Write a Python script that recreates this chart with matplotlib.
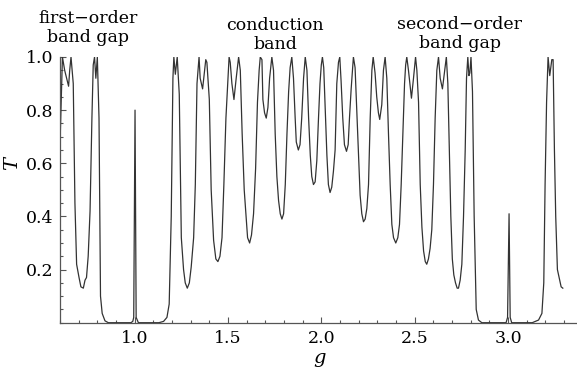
import matplotlib.pyplot as plt
from matplotlib.ticker import MultipleLocator, FixedLocator

# transmission T vs g
g = [0.602, 0.605, 0.613, 0.625, 0.646, 0.652, 0.659, 0.671, 0.680, 0.689,
     0.702, 0.712, 0.725, 0.734, 0.742, 0.751, 0.761, 0.771, 0.778, 0.785,
     0.792, 0.800, 0.809, 0.817, 0.826, 0.841, 0.859,
     0.98, 0.990, 0.995, 1.002, 1.008, 1.015, 1.02,
     1.13, 1.155, 1.173, 1.185, 1.196, 1.205, 1.210, 1.218, 1.228, 1.239,
     1.250, 1.262, 1.271, 1.282, 1.293, 1.303, 1.316, 1.325, 1.334, 1.345,
     1.351, 1.364, 1.381, 1.387, 1.400, 1.410, 1.423, 1.435, 1.446, 1.457,
     1.468, 1.478, 1.489, 1.506,
     1.512, 1.521, 1.532, 1.544, 1.557, 1.566, 1.576, 1.587, 1.598, 1.605,
     1.616, 1.626, 1.637, 1.648, 1.658, 1.667, 1.673, 1.682, 1.687, 1.696,
     1.705, 1.714, 1.723, 1.735, 1.744, 1.753, 1.762, 1.771, 1.780, 1.789,
     1.798, 1.807, 1.816, 1.825, 1.833, 1.842, 1.851, 1.860, 1.866, 1.877,
     1.886, 1.895, 1.905, 1.914, 1.923, 1.932, 1.941, 1.949, 1.958,
     1.967, 1.976, 1.985, 1.993, 2.000, 2.006, 2.013, 2.021, 2.030, 2.038,
     2.047, 2.056, 2.065, 2.074, 2.083, 2.092, 2.099, 2.106, 2.115, 2.124,
     2.135, 2.144, 2.151, 2.160, 2.172, 2.181, 2.190, 2.199, 2.208, 2.217,
     2.226, 2.235, 2.244, 2.253, 2.262, 2.271, 2.278, 2.288, 2.297, 2.306,
     2.313, 2.324, 2.333, 2.342, 2.351, 2.360, 2.369, 2.378, 2.387, 2.399,
     2.410, 2.419,
     2.428, 2.437, 2.446, 2.452, 2.458, 2.467, 2.476, 2.483, 2.494, 2.505,
     2.512, 2.521, 2.530, 2.539, 2.548, 2.557, 2.565, 2.574, 2.583, 2.592,
     2.601, 2.610, 2.619, 2.628, 2.637, 2.649, 2.658, 2.670, 2.678, 2.686,
     2.694, 2.702, 2.710, 2.719, 2.728, 2.735, 2.744, 2.753, 2.762, 2.771,
     2.778, 2.785, 2.791, 2.796, 2.802, 2.810, 2.819, 2.830, 2.842, 2.86,
     2.99, 2.998, 3.006, 3.012, 3.02,
     3.13, 3.164, 3.182, 3.192, 3.199, 3.207, 3.215, 3.224, 3.235, 3.242,
     3.249, 3.256, 3.265, 3.274, 3.285, 3.294]

T = [0.72, 0.80, 1.00, 0.95, 0.89, 0.95, 1.00, 0.90, 0.45, 0.22,
     0.17, 0.135, 0.13, 0.16, 0.17, 0.25, 0.42, 0.77, 0.97, 1.00,
     0.92, 1.00, 0.77, 0.10, 0.035, 0.007, 0.0,
     0.0, 0.005, 0.02, 0.80, 0.02, 0.008, 0.0,
     0.0, 0.005, 0.02, 0.07, 0.40, 0.92, 1.00, 0.935, 1.00, 0.86,
     0.32, 0.20, 0.15, 0.13, 0.15, 0.21, 0.32, 0.52, 0.90, 1.00,
     0.92, 0.88, 0.99, 0.98, 0.84, 0.50, 0.31, 0.24, 0.23, 0.25,
     0.32, 0.52, 0.77, 1.00,
     0.98, 0.90, 0.84, 0.92, 1.00, 0.95, 0.71, 0.50, 0.39, 0.32,
     0.30, 0.33, 0.41, 0.58, 0.83, 0.95, 1.00, 0.99, 0.84, 0.79,
     0.77, 0.81, 0.92, 1.00, 0.95, 0.71, 0.55, 0.46, 0.41, 0.39,
     0.41, 0.52, 0.71, 0.87, 0.96, 1.00, 0.92, 0.77, 0.68, 0.65,
     0.67, 0.77, 0.92, 1.00, 0.95, 0.77, 0.63, 0.55, 0.52,
     0.53, 0.61, 0.77, 0.90, 0.97, 1.00, 0.96, 0.80, 0.63, 0.52,
     0.49, 0.51, 0.57, 0.65, 0.90, 0.98, 1.00, 0.91, 0.77, 0.67,
     0.645, 0.67, 0.77, 0.88, 1.00, 0.96, 0.80, 0.65, 0.48, 0.41,
     0.38, 0.39, 0.43, 0.52, 0.77, 0.95, 1.00, 0.94, 0.85, 0.79,
     0.765, 0.82, 0.95, 1.00, 0.92, 0.71, 0.52, 0.37, 0.32, 0.30,
     0.32, 0.37,
     0.52, 0.71, 0.90, 0.97, 1.00, 0.95, 0.89, 0.845, 0.92, 1.00,
     0.95, 0.83, 0.52, 0.36, 0.27, 0.23, 0.22, 0.24, 0.28, 0.35,
     0.52, 0.77, 0.95, 1.00, 0.92, 0.88, 0.93, 1.00, 0.90, 0.65,
     0.40, 0.24, 0.18, 0.15, 0.13, 0.13, 0.16, 0.22, 0.40, 0.65,
     0.92, 1.00, 0.93, 0.94, 1.00, 0.87, 0.40, 0.05, 0.01, 0.0,
     0.0, 0.02, 0.41, 0.02, 0.0,
     0.0, 0.01, 0.035, 0.15, 0.52, 0.83, 1.00, 0.93, 0.99, 0.99,
     0.65, 0.40, 0.20, 0.17, 0.135, 0.13]

x_ticks = [1.0, 1.5, 2.0, 2.5, 3.0]
y_ticks = [0.2, 0.4, 0.6, 0.8, 1.0]

plt.rcParams['font.family'] = 'DejaVu Serif'
plt.rcParams['mathtext.fontset'] = 'dejavuserif'

fig = plt.figure(figsize=(5.77, 3.71), dpi=100)
ax = fig.add_axes([60 / 577, (371 - 322.7) / 371, 517 / 577, (322.7 - 57) / 371])
ax.plot(g, T, color='#333333', lw=0.9)

ax.set_xlim(0.6, 3.37)
ax.set_ylim(0, 1.0)
ax.spines['top'].set_visible(False)
ax.spines['right'].set_visible(False)
for s in ['left', 'bottom']:
    ax.spines[s].set_color('#555555')
    ax.spines[s].set_linewidth(0.9)

ax.xaxis.set_major_locator(FixedLocator(x_ticks))
ax.xaxis.set_minor_locator(MultipleLocator(0.1))
ax.yaxis.set_major_locator(FixedLocator(y_ticks))
ax.yaxis.set_minor_locator(MultipleLocator(0.05))
ax.tick_params(which='both', direction='in', colors='#555555', labelcolor='black',
               labelsize=12.5, width=0.8, pad=5)
ax.tick_params(which='major', length=4)
ax.tick_params(which='minor', length=2.5)
ax.set_xticklabels(['1.0', '1.5', '2.0', '2.5', '3.0'])
ax.set_yticklabels(['0.2', '0.4', '0.6', '0.8', '1.0'])

fig.text(12 / 577, 1 - 163 / 371, 'T', style='italic', fontsize=14,
         rotation=90, ha='center', va='center')
fig.text(320 / 577, 1 - 358 / 371, 'g', style='italic', fontsize=14,
         ha='center', va='center')

fig.text(88 / 577, 1 - 28 / 371, 'first\u2212order\nband gap', fontsize=12.5,
         ha='center', va='center', linespacing=1.1)
fig.text(275 / 577, 1 - 35 / 371, 'conduction\nband', fontsize=12.5,
         ha='center', va='center', linespacing=1.1)
fig.text(460 / 577, 1 - 34 / 371, 'second\u2212order\nband gap', fontsize=12.5,
         ha='center', va='center', linespacing=1.1)

fig.savefig('out.png', dpi=100, facecolor='white')
